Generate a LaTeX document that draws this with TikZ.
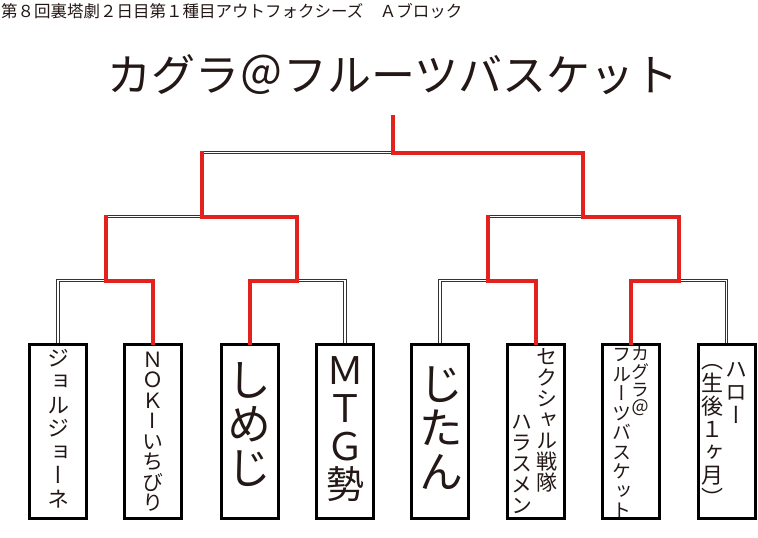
\documentclass[tikz,border=0pt]{standalone}
\usepackage{fontspec}
\newfontfamily\jpfont{Noto Sans CJK JP}
\newfontfamily\vjpfont[RawFeature=+vert]{Noto Sans CJK JP}
\definecolor{winred}{HTML}{E3221E}
\definecolor{inkc}{HTML}{231815}
\newcommand\vcolumn[6]{%
  \foreach \ch [count=\i from 0] in {#6} {
    \node[anchor=base, inner sep=0pt, text=inkc, font=\vjpfont\fontsize{#4}{#4}\selectfont]
      (#1-\i) at (#2, #3 + 0.88*#4 + \i*#5) {\ch};
  }%
}
\begin{document}
\begin{tikzpicture}[x=1pt,y=-1pt,
  bline/.style={draw=black!80, line width=0.65pt, double=white, double distance=1.8pt},
  rline/.style={draw=winred, line width=4pt, line join=miter, line cap=rect},
  pbox/.style={draw=black, line width=3pt, minimum width=57pt, minimum height=174pt, inner sep=0pt, fill=white}]
\useasboundingbox (0,0) rectangle (758,538);

% header and title
\node[anchor=base west, inner sep=0pt, text=inkc, font=\jpfont\fontsize{16.5}{16.5}\selectfont] (hdr) at (1,17)
  {第８回裏塔劇２日目第１種目アウトフォクシーズ　Ａブロック};
\node[anchor=base, inner sep=0pt, text=inkc, font=\jpfont\fontsize{44}{44}\selectfont] (title) at (393,91)
  {カグラ＠フルーツバスケット};

% boxes
\node[pbox] (b1) at (58,431.5) {};
\node[pbox] (b2) at (153,431.5) {};
\node[pbox] (b3) at (249.5,431.5) {};
\node[pbox] (b4) at (345,431.5) {};
\node[pbox] (b5) at (440,431.5) {};
\node[pbox] (b6) at (535.5,431.5) {};
\node[pbox] (b7) at (631,431.5) {};
\node[pbox] (b8) at (726.5,431.5) {};

% junctions
\coordinate (j1) at (105.5,280.5);
\coordinate (j2) at (297.25,280.5);
\coordinate (j3) at (487.75,280.5);
\coordinate (j4) at (678.75,280.5);
\coordinate (k1) at (201.5,216.5);
\coordinate (k2) at (583.25,216.5);
\coordinate (f) at (392.5,152.5);
\coordinate (top) at (392.5,117);

% bracket (double lines)
\draw[bline] (b1.north) |- (j1) -| (b2.north);
\draw[bline] (b3.north) |- (j2) -| (b4.north);
\draw[bline] (b5.north) |- (j3) -| (b6.north);
\draw[bline] (b7.north) |- (j4) -| (b8.north);
\draw[bline] (j1) |- (k1) -| (j2);
\draw[bline] (j3) |- (k2) -| (j4);
\draw[bline] (k1) |- (f) -| (k2);

% winners
\draw[rline] (b2.north) |- (j1) -- (j1 |- k1);
\draw[rline] (b3.north) |- (j2) |- (k1) -- (k1 |- f);
\draw[rline] (b6.north) |- (j3) -- (j3 |- k2);
\draw[rline] (b7.north) |- (j4) |- (k2) |- (f) -- (top);

% names (vertical)
\vcolumn{t1}{58}{347}{22}{23.5}{ジ,ョ,ル,ジ,ョ,ー,ネ}
\vcolumn{t2}{153}{349}{21}{20.5}{Ｎ,Ｏ,Ｋ,I,い,ち,び,り}
\vcolumn{t3}{249.5}{358}{44}{44}{し,め,じ}
\vcolumn{t4}{345}{351}{38}{38}{Ｍ,Ｔ,Ｇ,勢}
\vcolumn{t5}{441}{362}{44}{44}{じ,た,ん}
\vcolumn{t6a}{547}{346}{21}{21}{セ,ク,シ,ャ,ル,戦,隊}
\vcolumn{t6b}{522}{411}{21}{21}{ハ,ラ,ス,メ,ン}
\vcolumn{t7a}{640}{345}{18}{18}{カ,グ,ラ,＠}
\vcolumn{t7b}{622}{345}{19}{19.5}{フ,ル,ー,ツ,バ,ス,ケ,ッ,ト}
\vcolumn{t8a}{736}{358}{22}{23}{ハ,ロ,ー}
\vcolumn{t8b}{712.5}{349}{22}{23}{（,生,後,１,ヶ,月,）}
\end{tikzpicture}
\end{document}
